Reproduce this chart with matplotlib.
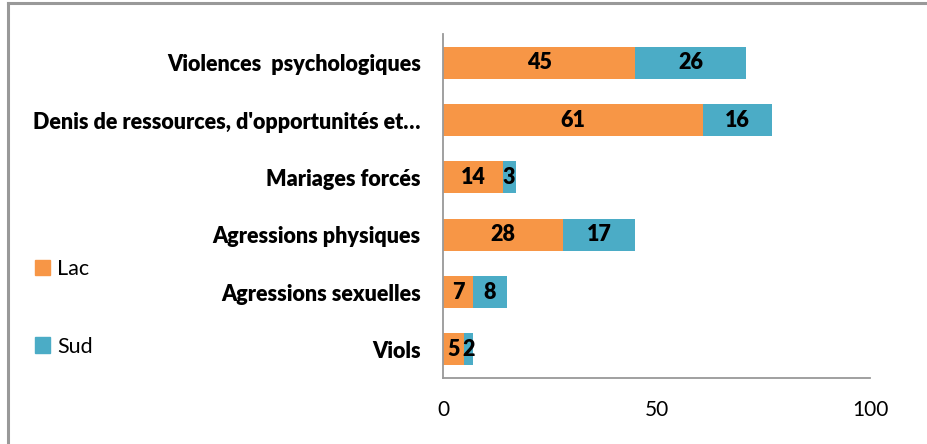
import numpy as np
import matplotlib
matplotlib.use('Agg')
import matplotlib.pyplot as plt
from matplotlib.lines import Line2D
from matplotlib.patches import Patch

plt.rcParams['font.family'] = ['Lato', 'DejaVu Sans']

# Données (du bas vers le haut)
categories = ["Viols", "Agressions sexuelles", "Agressions physiques",
              "Mariages forcés", "Denis de ressources, d'opportunités et…",
              "Violences  psychologiques"]
lac = [5, 7, 28, 14, 61, 45]
sud = [2, 8, 17, 3, 16, 26]
series_names = ["Lac", "Sud"]
colors = ['#F79646', '#4BACC6']

fig = plt.figure(figsize=(9.28, 4.44), dpi=100)
ax = fig.add_axes([443/928, 1-378/444, 427/928, 344/444])

y = np.arange(len(categories))
b1 = ax.barh(y, lac, height=0.56, color=colors[0])
b2 = ax.barh(y, sud, left=lac, height=0.56, color=colors[1])

for bars, vals, lefts in [(b1, lac, [0]*len(lac)), (b2, sud, lac)]:
    for bar, v, l in zip(bars, vals, lefts):
        ax.text(l + v/2, bar.get_y() + bar.get_height()/2, str(v),
                ha='center', va='center', fontsize=15.5, fontweight='heavy', color='black')

ax.set_xlim(0, 100)
ax.set_ylim(-0.5, len(categories) - 0.5)
ax.set_xticks([0, 50, 100])
ax.set_yticks(y)
ax.set_yticklabels(categories, fontsize=15.5, fontweight='heavy')
ax.tick_params(axis='x', length=0, pad=16, labelsize=15)
ax.tick_params(axis='y', length=0, pad=16)
for s in ['top', 'right']:
    ax.spines[s].set_visible(False)
for s in ['left', 'bottom']:
    ax.spines[s].set_color('#999999')
    ax.spines[s].set_linewidth(1.3)

handles = [Patch(color=c) for c in colors]
fig.legend(handles, series_names, loc='center left', bbox_to_anchor=(16/928, 1-308/444),
           frameon=False, fontsize=15.5, handlelength=0.7, handleheight=0.7,
           handletextpad=0.3, labelspacing=2.65)

# cadre extérieur (gauche et haut)
fig.add_artist(Line2D([8/928, 8/928], [0, 1-3/444], color='#999999', lw=2.2))
fig.add_artist(Line2D([8/928, 1], [1-3/444, 1-3/444], color='#999999', lw=2.2))

fig.savefig('out.png', dpi=100)
